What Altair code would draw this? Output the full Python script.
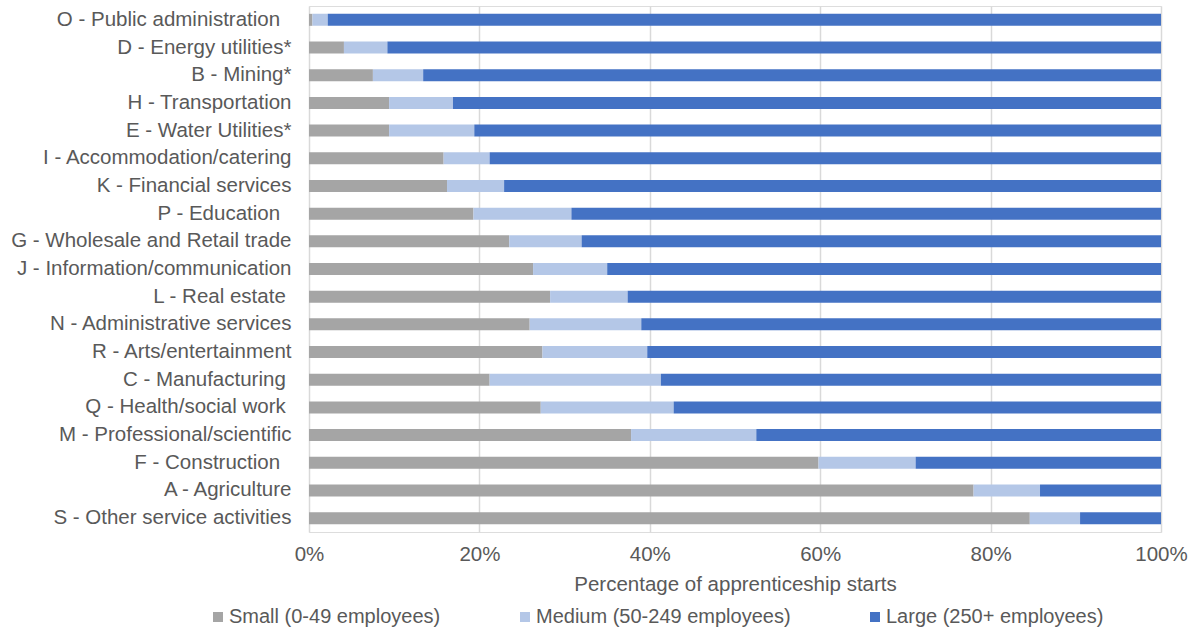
import altair as alt
import pandas as pd

NB = "\u00a0"
ZW = "\u200b"
categories = [
    "O - Public administration" + NB * 2 + ZW,
    "D - Energy utilities*",
    "B - Mining*",
    "H - Transportation",
    "E - Water Utilities*",
    "I - Accommodation/catering",
    "K - Financial services",
    "P - Education" + NB * 2 + ZW,
    "G - Wholesale and Retail trade",
    "J - Information/communication",
    "L - Real estate" + NB + ZW,
    "N - Administrative services",
    "R - Arts/entertainment",
    "C - Manufacturing" + NB + ZW,
    "Q - Health/social work" + NB + ZW,
    "M - Professional/scientific",
    "F - Construction" + NB * 2 + ZW,
    "A - Agriculture",
    "S - Other service activities",
]
small = [0.4, 4.1, 7.5, 9.4, 9.4, 15.8, 16.2, 19.3, 23.5, 26.3, 28.3, 25.9, 27.4, 21.2, 27.2, 37.8, 59.8, 78.0, 84.6]
medium = [1.8, 5.1, 5.9, 7.5, 10.0, 5.4, 6.7, 11.5, 8.5, 8.7, 9.1, 13.1, 12.3, 20.1, 15.6, 14.7, 11.4, 7.8, 5.9]
large = [round(100 - s - m, 1) for s, m in zip(small, medium)]

series = ["Small (0-49 employees)", "Medium (50-249 employees)", "Large (250+ employees)"]
colors = ["#A5A5A5", "#B4C7E7", "#4472C4"]

rows = []
for i, c in enumerate(categories):
    for k, vals in enumerate([small, medium, large]):
        rows.append({"cat": c, "size": series[k], "order": k, "value": vals[i]})
df = pd.DataFrame(rows)

FONT = "Liberation Sans"
TXT = "#595959"
FS = 20.5

chart = alt.Chart(df).mark_bar(size=12).encode(
    y=alt.Y("cat:N", sort=categories, title=None,
            scale=alt.Scale(paddingInner=0, paddingOuter=0),
            axis=alt.Axis(domain=False, ticks=False, grid=False, labelPadding=18,
                          labelFontSize=FS, labelFont=FONT, labelColor=TXT,
                          labelLimit=400)),
    x=alt.X("value:Q", stack="normalize",
            title="Percentage of apprenticeship starts",
            scale=alt.Scale(domain=[0, 1], nice=False),
            axis=alt.Axis(values=[0, 0.2, 0.4, 0.6, 0.8, 1.0], format=".0%",
                          domain=False, ticks=False, grid=True, labelFlush=False,
                          gridColor="#D9D9D9", gridWidth=1.5,
                          labelPadding=12, labelFontSize=FS, labelFont=FONT,
                          labelColor=TXT, titleFontSize=FS, titleFont=FONT,
                          titleColor=TXT, titleFontWeight="normal", titlePadding=10)),
    color=alt.Color("size:N", sort=series,
                    scale=alt.Scale(domain=series, range=colors),
                    legend=alt.Legend(title=None, orient="none", direction="horizontal",
                                      legendX=-101, legendY=601,
                                      symbolType="square", symbolSize=100,
                                      symbolStrokeWidth=0, labelFontSize=20,
                                      labelFont=FONT, labelColor=TXT, labelLimit=500,
                                      columnPadding=74, labelOffset=1)),
    order=alt.Order("order:Q"),
).properties(
    width=852, height=526,
    autosize=alt.AutoSizeParams(type="none"),
    padding={"left": 309, "top": 6, "right": 33, "bottom": 98},
).configure_view(stroke=None).configure(background="white")

chart.save("out.html", embed_options={"renderer": "svg", "actions": False})
